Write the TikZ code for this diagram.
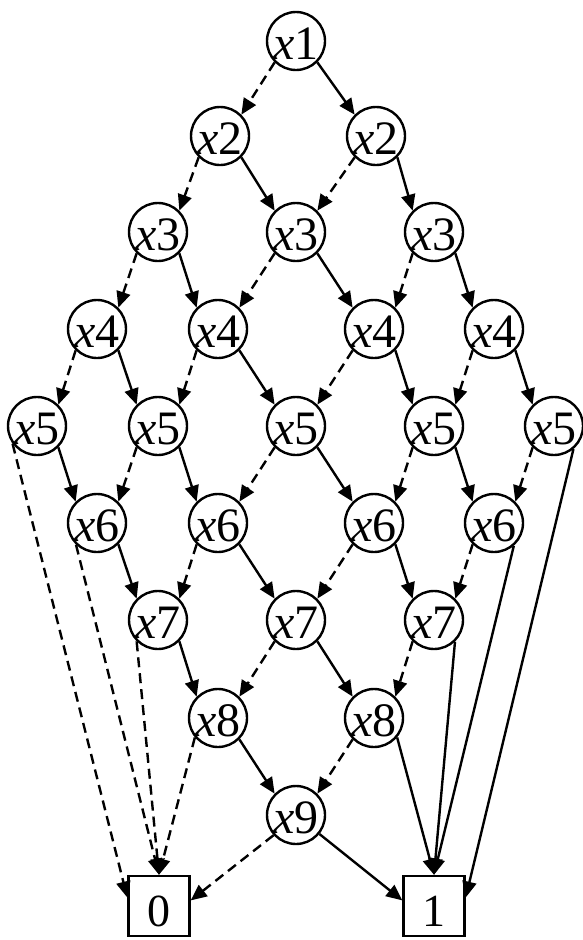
\documentclass[tikz,border=0pt]{standalone}
\usepackage{fontspec}
\setmainfont{Liberation Serif}
\usetikzlibrary{arrows.meta}
\begin{document}
\begin{tikzpicture}[x=1pt,y=-1pt,
  var/.style={circle,draw,line width=2.4pt,minimum size=58pt,inner sep=0pt,
    text height=36pt,text depth=0pt,font=\fontsize{48}{52}\selectfont},
  term/.style={rectangle,draw,line width=2.4pt,minimum width=61pt,minimum height=60pt,
    inner sep=0pt,text height=40pt,text depth=0pt,font=\fontsize{46}{50}\selectfont},
  tip/.style={-{Triangle[length=16pt,width=14pt]}},
  lo/.style={tip,line width=2.4pt,dash pattern=on 10pt off 6pt},
  hi/.style={tip,line width=2.4pt}]
\useasboundingbox (0,0) rectangle (582,940);

% variable nodes, one row per level
\node[var] (x1)  at (296,41)  {\textit{x}1};
\node[var] (x2a) at (220,136) {\textit{x}2};
\node[var] (x2b) at (376,136) {\textit{x}2};
\node[var] (x3a) at (158,232) {\textit{x}3};
\node[var] (x3b) at (296,232) {\textit{x}3};
\node[var] (x3c) at (434,232) {\textit{x}3};
\node[var] (x4a) at (97,329)  {\textit{x}4};
\node[var] (x4b) at (218,329) {\textit{x}4};
\node[var] (x4c) at (374,329) {\textit{x}4};
\node[var] (x4d) at (494,329) {\textit{x}4};
\node[var] (x5a) at (37,426)  {\textit{x}5};
\node[var] (x5b) at (158,426) {\textit{x}5};
\node[var] (x5c) at (296,426) {\textit{x}5};
\node[var] (x5d) at (434,426) {\textit{x}5};
\node[var] (x5e) at (554,426) {\textit{x}5};
\node[var] (x6a) at (97,523)  {\textit{x}6};
\node[var] (x6b) at (218,523) {\textit{x}6};
\node[var] (x6c) at (374,523) {\textit{x}6};
\node[var] (x6d) at (494,523) {\textit{x}6};
\node[var] (x7a) at (158,620) {\textit{x}7};
\node[var] (x7b) at (296,620) {\textit{x}7};
\node[var] (x7c) at (434,620) {\textit{x}7};
\node[var] (x8a) at (218,718) {\textit{x}8};
\node[var] (x8b) at (374,718) {\textit{x}8};
\node[var] (x9)  at (296,815) {\textit{x}9};

% terminals
\node[term] (zero) at (159,906) {0};
\node[term] (one)  at (434,906) {1};

% low (dashed) and high (solid) edges inside the lattice
\foreach \p/\c in {x1/x2a, x2a/x3a, x2b/x3b, x3a/x4a, x3b/x4b, x3c/x4c,
  x4a/x5a, x4b/x5b, x4c/x5c, x4d/x5d, x5b/x6a, x5c/x6b, x5d/x6c, x5e/x6d,
  x6b/x7a, x6c/x7b, x6d/x7c, x7b/x8a, x7c/x8b, x8b/x9}
  \draw[lo] (\p.225) -- (\c.45);
\foreach \p/\c in {x1/x2b, x2a/x3b, x2b/x3c, x3a/x4b, x3b/x4c, x3c/x4d,
  x4a/x5b, x4b/x5c, x4c/x5d, x4d/x5e, x5a/x6a, x5b/x6b, x5c/x6c, x5d/x6d,
  x6a/x7a, x6b/x7b, x6c/x7c, x7a/x8a, x7b/x8b, x8a/x9}
  \draw[hi] (\p.315) -- (\c.135);

% edges into the terminal 0
\draw[lo] (x5a.216) -- (zero.165);
\draw[lo] (x6a.226) -- (zero.north);
\draw[lo] (x7a.225) -- (zero.north);
\draw[lo] (x8a.220) -- (zero.north);
\draw[lo] (x9.222)  -- (zero.10);

% edges into the terminal 1
\draw[hi] (x9.321)  -- (one.170);
\draw[hi] (x8b.320) -- (one.north);
\draw[hi] (x7c.314) -- (one.north);
\draw[hi] (x6d.311) -- (one.north);
\draw[hi] (x5e.310) -- (one.15);
\end{tikzpicture}
\end{document}
